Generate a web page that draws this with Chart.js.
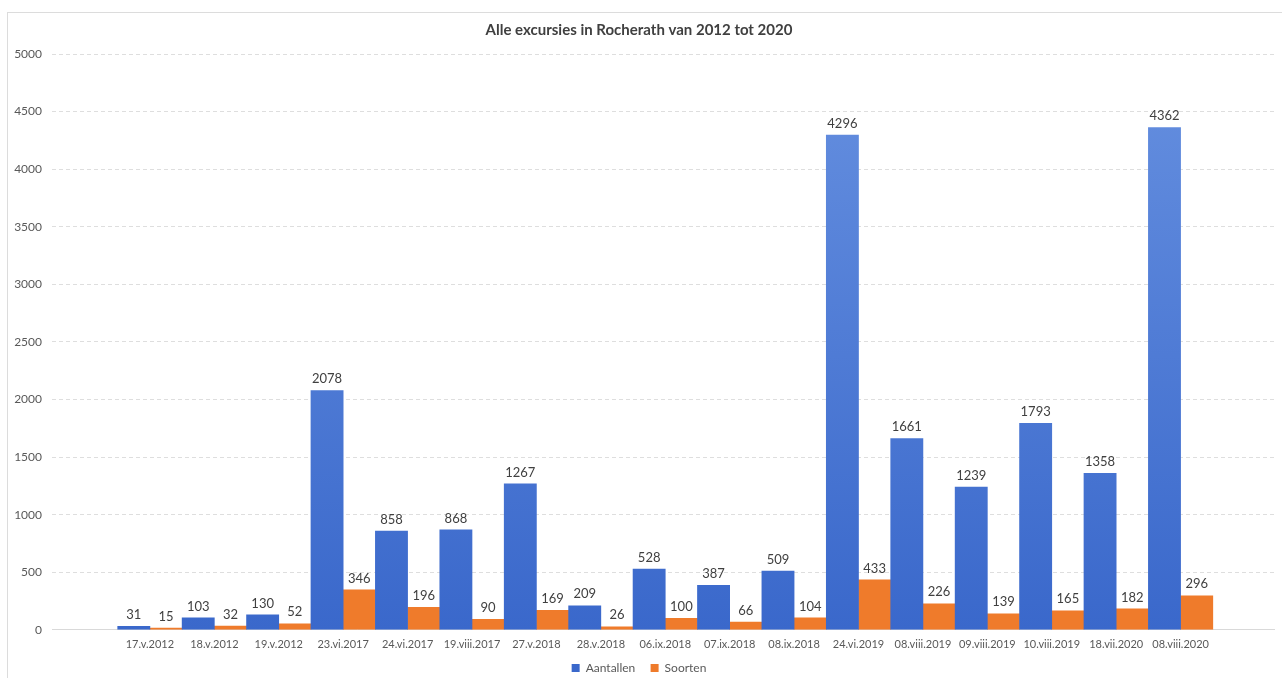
<!DOCTYPE html>
<html lang="nl">
<head>
    <meta charset="UTF-8">
    <title>Alle excursies in Rocherath van 2012 tot 2020</title>
    <script src="https://cdn.jsdelivr.net/npm/chart.js"></script>
    <style>
        html, body { margin: 0; padding: 0; background: #fff; }
        #wrap { position: relative; width: 1282px; height: 678px; }
        #frame { position: absolute; left: 7px; top: 12px; width: 1290px; height: 700px;
                 border: 1px solid #dcdcdc; pointer-events: none; }
    </style>
</head>
<body>
    <div id="wrap">
        <canvas id="myChart" width="1282" height="678"></canvas>
        <div id="frame"></div>
    </div>

    <script>
        const dates = ['17.v.2012', '18.v.2012', '19.v.2012', '23.vi.2017', '24.vi.2017', '19.viii.2017',
            '27.v.2018', '28.v.2018', '06.ix.2018', '07.ix.2018', '08.ix.2018', '24.vi.2019',
            '08.viii.2019', '09.viii.2019', '10.viii.2019', '18.vii.2020', '08.viii.2020'];
        const aantallen = [31, 103, 130, 2078, 858, 868, 1267, 209, 528, 387, 509, 4296, 1661, 1239, 1793, 1358, 4362];
        const soorten = [15, 32, 52, 346, 196, 90, 169, 26, 100, 66, 104, 433, 226, 139, 165, 182, 296];

        const textColor = '#595959';
        const fontFamily = 'Lato, "Open Sans", sans-serif';

        function toPoints(values) {
            return values.map((v, i) => ({ x: i, y: v }));
        }

        function blueFill(ctx) {
            const area = ctx.chart.chartArea;
            if (!area) return '#4472c4';
            const g = ctx.chart.ctx.createLinearGradient(0, area.top, 0, area.bottom);
            g.addColorStop(0, '#6690e0');
            g.addColorStop(1, '#3a68cb');
            return g;
        }

        // values above each bar
        const valueLabels = {
            id: 'valueLabels',
            afterDatasetsDraw(chart) {
                const ctx = chart.ctx;
                ctx.save();
                ctx.font = '13px ' + fontFamily;
                ctx.fillStyle = '#404040';
                ctx.textAlign = 'center';
                ctx.textBaseline = 'bottom';
                chart.data.datasets.forEach((ds, di) => {
                    chart.getDatasetMeta(di).data.forEach((bar, i) => {
                        ctx.fillText(ds.data[i].y, bar.x, bar.y - 5);
                    });
                });
                ctx.restore();
            }
        };

        new Chart(document.getElementById('myChart').getContext('2d'), {
            type: 'bar',
            data: {
                datasets: [
                    { label: 'Aantallen', data: toPoints(aantallen), backgroundColor: blueFill },
                    { label: 'Soorten', data: toPoints(soorten), backgroundColor: '#ef7b2b' }
                ]
            },
            options: {
                responsive: false,
                animation: false,
                layout: { padding: { left: 0, right: 4, top: 0, bottom: -6 } },
                barPercentage: 1,
                categoryPercentage: 1,
                plugins: {
                    title: {
                        display: true,
                        text: 'Alle excursies in Rocherath van 2012 tot 2020',
                        color: '#404040',
                        font: { family: fontFamily, size: 15, weight: 'bold' },
                        padding: { top: 21, bottom: 15 }
                    },
                    legend: {
                        position: 'bottom',
                        labels: {
                            color: textColor,
                            boxWidth: 8,
                            boxHeight: 8,
                            padding: 3,
                            font: { family: fontFamily, size: 12 },
                            generateLabels: chart => {
                                const items = Chart.defaults.plugins.legend.labels.generateLabels(chart);
                                items[0].text += '    '; // a bit more room between the two entries
                                return items;
                            }
                        }
                    },
                    tooltip: { enabled: false }
                },
                scales: {
                    x: {
                        type: 'linear',
                        offset: false,
                        min: -1.52,
                        max: 17.45,
                        grid: { display: false, drawTicks: false },
                        border: { display: true, color: '#d9d9d9' },
                        ticks: {
                            stepSize: 1,
                            autoSkip: false,
                            maxRotation: 0,
                            padding: 8,
                            color: textColor,
                            font: { family: fontFamily, size: 11 },
                            callback: v => (Number.isInteger(v) && v >= 0 && v < dates.length) ? dates[v] : ''
                        }
                    },
                    y: {
                        min: 0,
                        max: 5000,
                        afterFit: scale => { scale.width = 52; },
                        grid: { color: '#dedede', drawTicks: false },
                        border: { display: false, dash: [4, 3] },
                        ticks: {
                            stepSize: 500,
                            padding: 10,
                            color: textColor,
                            font: { family: fontFamily, size: 12 },
                            callback: v => String(v)
                        }
                    }
                }
            },
            plugins: [valueLabels]
        });
    </script>
</body>
</html>
